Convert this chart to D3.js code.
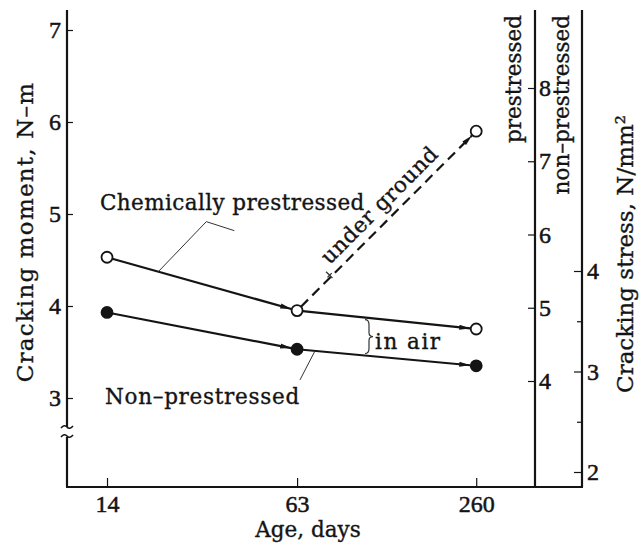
<!DOCTYPE html>
<html><head><meta charset="utf-8">
<script src="https://cdn.jsdelivr.net/npm/d3@7"></script>
<style>body{margin:0;background:#fff} svg{display:block}</style>
</head><body><svg id="c" width="640" height="544"></svg>
<script>
// ---- data ----
const ages = [14, 63, 260];
const ageLabels = ["14", "63", "260"];
const chemInAir = [4.53, 3.95, 3.75];      // chemically prestressed, in air (N-m)
const nonPrestressed = [3.93, 3.53, 3.35]; // non-prestressed, in air (N-m)
const underGroundAges = [63, 260];
const underGround = [3.95, 5.90];          // chemically prestressed, under ground
const momentTicks = [3, 4, 5, 6, 7];
const prestressTicks = [4, 5, 6, 7, 8];
const nonTicks = [2, 2.5, 3, 3.5, 4];

// ---- setup ----
const svg = d3.select("#c");
const TXT = "'DejaVu Serif', serif";
const NUM = "'Liberation Serif', serif";
const INK = "#141414";

const x = d3.scaleLog().domain([10.2, 414]).range([67, 535]);
const y = d3.scaleLinear().domain([3, 7]).range([398, 30]);
const yPre = d3.scaleLinear().domain([4, 8]).range([381, 88]);
const yNon = d3.scaleLinear().domain([2, 4]).range([472, 271]);

const topY = 10, bottomY = 487, leftX = 67, preX = 535, nonX = 582;

// ---- axis lines ----
const ax = svg.append("g").attr("stroke", INK).attr("stroke-width", 2.2).attr("fill", "none");
ax.append("line").attr("x1", leftX).attr("x2", leftX).attr("y1", topY).attr("y2", 427);
ax.append("line").attr("x1", leftX).attr("x2", leftX).attr("y1", 437).attr("y2", bottomY);
ax.append("line").attr("x1", leftX - 1).attr("x2", nonX + 1).attr("y1", bottomY).attr("y2", bottomY);
ax.append("line").attr("x1", preX).attr("x2", preX).attr("y1", topY).attr("y2", bottomY);
ax.append("line").attr("x1", nonX).attr("x2", nonX).attr("y1", topY).attr("y2", bottomY);
// axis break marks
[427, 436].forEach(yy => {
  ax.append("path").attr("stroke-width", 1.6)
    .attr("d", `M${leftX - 6},${yy + 1} q3.5,-4 6,-1 t6,-1`);
});

function styleAxis(g, size, font) {
  g.select(".domain").remove();
  g.selectAll(".tick line").attr("stroke", INK).attr("stroke-width", 1.2);
  g.selectAll(".tick text").attr("fill", INK).attr("stroke", INK).attr("stroke-width", 0.5)
    .style("font-family", font).style("font-size", size + "px");
}

// left axis (ticks inside)
svg.append("g").attr("transform", `translate(${leftX},0)`)
  .call(d3.axisLeft(y).tickValues(momentTicks).tickFormat(d3.format("d")).tickSize(-6).tickPadding(6))
  .call(g => styleAxis(g, 24, NUM));

// bottom axis
svg.append("g").attr("transform", `translate(0,${bottomY})`)
  .call(d3.axisBottom(x).tickValues(ages).tickFormat((d, i) => ageLabels[i]).tickSize(-9).tickPadding(8))
  .call(g => styleAxis(g, 24, NUM));

// prestressed stress axis
svg.append("g").attr("transform", `translate(${preX},0)`)
  .call(d3.axisRight(yPre).tickValues(prestressTicks).tickFormat(d3.format("d")).tickSize(-7).tickPadding(4))
  .call(g => styleAxis(g, 24, NUM));

// non-prestressed stress axis
svg.append("g").attr("transform", `translate(${nonX},0)`)
  .call(d3.axisRight(yNon).tickValues(nonTicks).tickFormat(d => Number.isInteger(d) ? d : "").tickSize(-8).tickPadding(5))
  .call(g => styleAxis(g, 24, NUM))
  .call(g => g.selectAll(".tick").filter(d => !Number.isInteger(d)).select("line").attr("x2", -5));

// ---- markers ----
svg.append("defs").append("marker").attr("id", "arr")
  .attr("viewBox", "0 0 11 6").attr("refX", 11).attr("refY", 3)
  .attr("markerWidth", 11).attr("markerHeight", 6)
  .attr("markerUnits", "userSpaceOnUse").attr("orient", "auto")
  .append("path").attr("d", "M0,0.4L11,3L0,5.6Z").attr("fill", INK);

const R = 5.5;
function pts(xs, ys) { return xs.map((d, i) => [x(d), y(ys[i])]); }
function segment(p0, p1, dashed) {
  const dx = p1[0] - p0[0], dy = p1[1] - p0[1], L = Math.hypot(dx, dy);
  const u = [dx / L, dy / L];
  svg.append("line")
    .attr("x1", p0[0] + u[0] * R).attr("y1", p0[1] + u[1] * R)
    .attr("x2", p1[0] - u[0] * (R + 0.5)).attr("y2", p1[1] - u[1] * (R + 0.5))
    .attr("stroke", INK).attr("stroke-width", 2.2)
    .attr("stroke-dasharray", dashed ? "10,6" : null)
    .attr("marker-end", "url(#arr)");
}
function series(p, dashed) { for (let i = 0; i < p.length - 1; i++) segment(p[i], p[i + 1], dashed); }

const chemP = pts(ages, chemInAir);
const nonP = pts(ages, nonPrestressed);
const ugP = pts(underGroundAges, underGround);
series(chemP, false);
series(nonP, false);
series(ugP, true);

// points
function dots(p, filled) {
  svg.append("g").selectAll("circle").data(p).join("circle")
    .attr("cx", d => d[0]).attr("cy", d => d[1]).attr("r", R)
    .attr("fill", filled ? INK : "#fff").attr("stroke", INK).attr("stroke-width", 1.8);
}
dots(chemP, false);
dots([ugP[1]], false);
dots(nonP, true);

// ---- annotations ----
const lerp = (a, b, t) => [a[0] + (b[0] - a[0]) * t, a[1] + (b[1] - a[1]) * t];
const thin = svg.append("g").attr("stroke", "#333").attr("stroke-width", 1).attr("fill", "none");

// Chemically prestressed leader
const cBase = lerp(chemP[0], chemP[1], 0.27);
thin.append("path").attr("d", `M${cBase[0]},${cBase[1]}L${cBase[0] + 48},${cBase[1] - 50}L${cBase[0] + 76},${cBase[1] - 41}`);
svg.append("text").attr("x", 100).attr("y", 210).attr("letter-spacing", 0.4).text("Chemically prestressed");

// Non-prestressed leader
const nBase = lerp(nonP[1], nonP[2], 0.1);
thin.append("line").attr("x1", nBase[0]).attr("y1", nBase[1]).attr("x2", nBase[0] - 15).attr("y2", nBase[1] + 29);
svg.append("text").attr("x", 105).attr("y", 404).attr("letter-spacing", 0.7).text("Non\u2013prestressed");

// in air brace
const bx = 365;
const tB = (bx - chemP[1][0]) / (chemP[2][0] - chemP[1][0]);
const yT = lerp(chemP[1], chemP[2], tB)[1] + 2, yB = lerp(nonP[1], nonP[2], tB)[1] - 2, ym = (yT + yB) / 2;
thin.append("path").attr("stroke-width", 1.2)
  .attr("d", `M${bx},${yT} q4,0 4,5 L${bx + 4},${ym - 4} q0,4 4,4 q-4,0 -4,4 L${bx + 4},${yB - 5} q0,5 -4,5`);
svg.append("text").attr("x", 375).attr("y", 349).attr("letter-spacing", 1.5).text("in air");

// under ground label along dashed line
const g0 = ugP[0], g1 = ugP[1];
const gL = Math.hypot(g1[0] - g0[0], g1[1] - g0[1]);
const gu = [(g1[0] - g0[0]) / gL, (g1[1] - g0[1]) / gL];
const gn = [gu[1], -gu[0]];
const ang = Math.atan2(gu[1], gu[0]) * 180 / Math.PI;
const to = [g0[0] + gu[0] * 55 + gn[0] * 9, g0[1] + gu[1] * 55 + gn[1] * 9];
svg.append("text").attr("transform", `translate(${to[0]},${to[1]}) rotate(${ang})`)
  .attr("letter-spacing", 0.5).text("under ground");
const tk = [g0[0] + gu[0] * 48, g0[1] + gu[1] * 48];
thin.append("line").attr("stroke-width", 1.3)
  .attr("x1", tk[0] - gn[0] * 2).attr("y1", tk[1] - gn[1] * 2)
  .attr("x2", tk[0] + gn[0] * 7).attr("y2", tk[1] + gn[1] * 7);
thin.append("line").attr("stroke-width", 1.3)
  .attr("x1", tk[0] + gn[0] * 2 - gu[0] * 3).attr("y1", tk[1] + gn[1] * 2 - gu[1] * 3)
  .attr("x2", tk[0] + gn[0] * 2 + gu[0] * 3).attr("y2", tk[1] + gn[1] * 2 + gu[1] * 3);

// axis titles
svg.append("text").attr("transform", "translate(33,232) rotate(-90)").attr("text-anchor", "middle")
  .attr("letter-spacing", 1.2).style("font-size", "23px").text("Cracking moment, N\u2013m");
svg.append("text").attr("transform", "translate(633,254) rotate(-90)").attr("text-anchor", "middle")
  .style("font-size", "23px").text("Cracking stress, N/mm\u00B2");
svg.append("text").attr("transform", "translate(521,15) rotate(-90)").attr("text-anchor", "end").text("prestressed");
svg.append("text").attr("transform", "translate(569,15) rotate(-90)").attr("text-anchor", "end").text("non\u2013prestressed");
svg.append("text").attr("x", 308).attr("y", 537).attr("text-anchor", "middle").text("Age, days");

svg.selectAll("text").filter(function () { return !this.closest(".tick"); })
  .attr("fill", INK).attr("stroke", INK).attr("stroke-width", 0.35).style("font-family", TXT)
  .style("font-size", function () { return this.style.fontSize || "21.5px"; });
</script></body></html>
